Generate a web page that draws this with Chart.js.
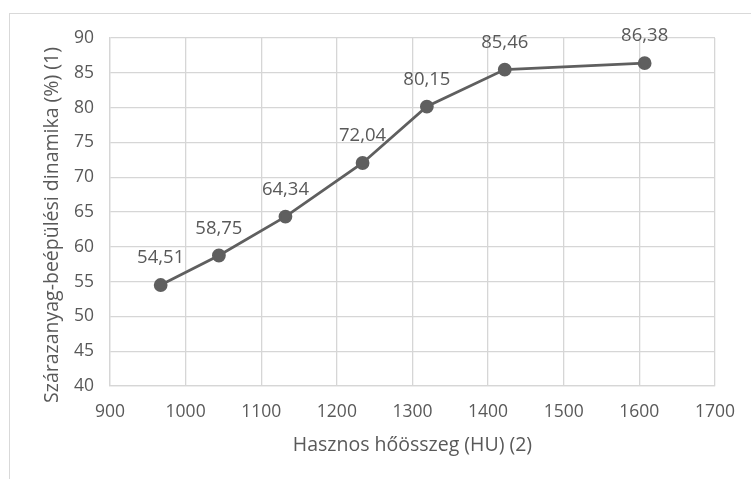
<!DOCTYPE html>
<html>
<head>
<meta charset="utf-8">
<script src="https://cdn.jsdelivr.net/npm/chart.js@4"></script>
<style>
    html, body { margin: 0; padding: 0; background: #fff; overflow: hidden; }
    #wrap { position: relative; width: 751px; height: 479px; }
    #frame { position: absolute; left: 9px; top: 13px; width: 800px; height: 500px; border: 1px solid #d9d9d9; }
    #c { position: absolute; left: 0; top: 0; }
</style>
</head>
<body>
<div id="wrap">
    <div id="frame"></div>
    <canvas id="c" width="751" height="479"></canvas>
</div>
<script>
// Hasznos hőösszeg vs szárazanyag-beépülési dinamika
const hoOsszeg = [967, 1044, 1132, 1234, 1319, 1422, 1607];
const dinamika = [54.51, 58.75, 64.34, 72.04, 80.15, 85.46, 86.38];
const xTitle = 'Hasznos hőösszeg (HU) (2)';
const yTitle = 'Szárazanyag-beépülési dinamika (%) (1)';

const textColor = '#595959';
const fontFam = '"Open Sans", sans-serif';

// felirat a pontok fölé + tengelycímek
const labelsPlugin = {
    id: 'labelsPlugin',
    afterDatasetsDraw(chart) {
        const ctx = chart.ctx;
        const meta = chart.getDatasetMeta(0);
        ctx.save();
        ctx.fillStyle = textColor;
        ctx.font = '18.5px ' + fontFam;
        ctx.textAlign = 'center';
        ctx.textBaseline = 'middle';
        meta.data.forEach((pt, i) => {
            ctx.fillText(dinamika[i].toFixed(2).replace('.', ','), pt.x, pt.y - 27);
        });
        const area = chart.chartArea;
        ctx.font = '19.5px ' + fontFam;
        ctx.fillText(xTitle, (area.left + area.right) / 2, 445);
        ctx.translate(52, (area.top + area.bottom) / 2 + 13);
        ctx.rotate(-Math.PI / 2);
        ctx.fillText(yTitle, 0, 0);
        ctx.restore();
    }
};

new Chart(document.getElementById('c').getContext('2d'), {
    type: 'scatter',
    data: {
        datasets: [{
            data: hoOsszeg.map((x, i) => ({ x, y: dinamika[i] })),
            showLine: true,
            borderColor: '#5f5f5f',
            backgroundColor: '#5f5f5f',
            borderWidth: 2.8,
            pointRadius: 5.5,
            pointHoverRadius: 5.5
        }]
    },
    options: {
        responsive: false,
        animation: false,
        layout: { padding: { left: 0, top: 38, right: 33, bottom: 0 } },
        plugins: {
            legend: { display: false },
            tooltip: { enabled: false }
        },
        scales: {
            x: {
                type: 'linear',
                min: 900, max: 1700,
                afterFit: s => { s.height = 93; },
                grid: { color: '#d6d6d6', lineWidth: 1.3, drawTicks: false },
                border: { color: '#d6d6d6', width: 1.3 },
                ticks: { stepSize: 100, padding: 16, color: textColor, font: { family: fontFam, size: 17.5 }, callback: v => String(v) }
            },
            y: {
                min: 40, max: 90,
                afterFit: s => { s.width = 110; },
                grid: { color: '#d6d6d6', lineWidth: 1.3, drawTicks: false },
                border: { color: '#d6d6d6', width: 1.3 },
                ticks: { stepSize: 5, padding: 16, color: textColor, font: { family: fontFam, size: 17.5 } }
            }
        }
    },
    plugins: [labelsPlugin]
});
</script>
</body>
</html>
